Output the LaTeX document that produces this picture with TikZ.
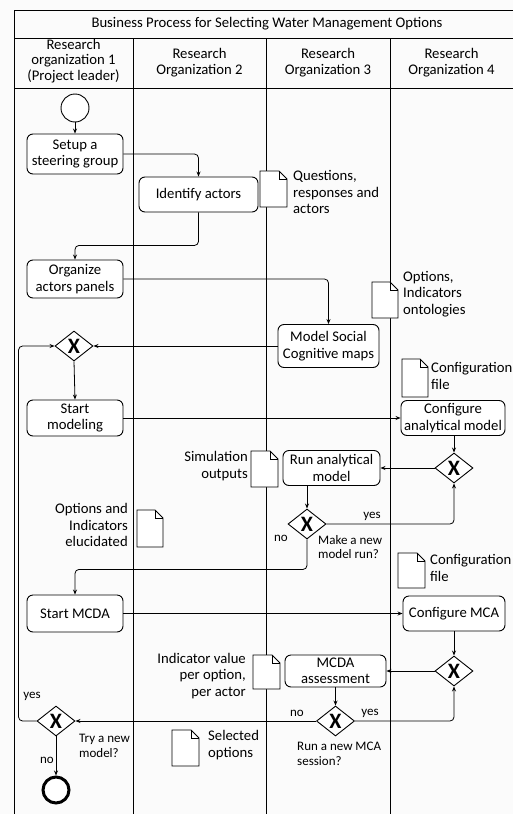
\documentclass[tikz,border=0pt]{standalone}
\usepackage{fontspec}
\setmainfont{Carlito}
\usetikzlibrary{arrows.meta,shapes.geometric,calc}
\definecolor{bgc}{RGB}{251,251,251}
\newcommand{\mydoc}[4]{%
  \draw[docline,fill=white] (#1,#2) -- (#1+#3-8,#2) -- (#1+#3,#2+8) -- (#1+#3,#2+#4) -- (#1,#2+#4) -- cycle;
  \draw[docline] (#1+#3-8,#2) -- (#1+#3-8,#2+8) -- (#1+#3,#2+8);}
\tikzset{
  task/.style={draw, fill=white, rounded corners=6pt, align=center, inner sep=0pt,
    font=\fontsize{14.7}{16.5}\selectfont, line width=0.9pt},
  gw/.style={draw, fill=white, diamond, aspect=1.27, inner sep=0pt, minimum width=38pt,
    minimum height=30pt, font=\fontsize{22}{22}\selectfont\bfseries, line width=0.9pt},
  arr/.style={-{Stealth[length=5pt,width=4pt]}, line width=0.8pt, rounded corners=4pt},
  docline/.style={line width=0.8pt},
  lane/.style={line width=1pt},
  hdr/.style={align=center, font=\fontsize{14.7}{15.8}\selectfont, inner sep=0pt},
  doctext/.style={inner sep=0pt, font=\fontsize{14.7}{16.8}\selectfont},
  small/.style={inner sep=0pt, font=\fontsize{13}{14.8}\selectfont},
}
\begin{document}
\begin{tikzpicture}[x=1pt,y=-1pt]
\useasboundingbox (0,0) rectangle (513,814);
\fill[bgc] (0,0) rectangle (513,814);
% frame and lanes
\draw[lane] (513,10) -- (14,10) -- (14,814);
\draw[lane] (14,38) -- (513,38);
\draw[lane] (14,88) -- (513,88);
\draw[lane] (133,38) -- (133,814);
\draw[lane] (266,38) -- (266,814);
\draw[lane] (390,38) -- (390,814);
\node[hdr] (title) at (267,24) {Business Process for Selecting Water Management Options};
\node[hdr] (h1) at (73.5,61) {Research\\organization 1\\(Project leader)};
\node[hdr] (h2) at (199.5,62.5) {Research\\Organization 2};
\node[hdr] (h3) at (328,62.5) {Research\\Organization 3};
\node[hdr] (h4) at (451.5,62.5) {Research\\Organization 4};
% documents
\mydoc{260}{171}{27}{36}
\mydoc{372}{282}{26}{36}
\mydoc{402}{359}{26}{38}
\mydoc{251}{451}{27}{36}
\mydoc{137}{510}{26}{37}
\mydoc{398}{553}{27}{35}
\mydoc{253}{655}{27}{34}
\mydoc{172}{730}{27}{36}
\node[doctext, anchor=west, align=left] (t1) at (293,192) {Questions,\\responses and\\actors};
\node[doctext, anchor=west, align=left] (t2) at (403,294) {Options,\\Indicators\\ontologies};
\node[doctext, anchor=west, align=left] (t3) at (431,376) {Configuration\\file};
\node[doctext, anchor=east, align=right] (t4) at (248,466) {Simulation\\outputs};
\node[doctext, anchor=east, align=right] (t5) at (128,525) {Options and\\Indicators\\elucidated};
\node[doctext, anchor=west, align=left] (t6) at (430,568) {Configuration\\file};
\node[doctext, anchor=east, align=right] (t7) at (246,676) {Indicator value\\per option,\\per actor};
\node[doctext, anchor=west, align=left] (t8) at (208,745) {Selected\\options};
% events
\node[draw, circle, fill=white, minimum size=28pt, inner sep=0pt, line width=0.9pt] (start) at (75,108) {};
\node[draw, circle, fill=white, minimum size=26pt, inner sep=0pt, line width=3pt] (end) at (56,790) {};
% tasks
\node[task, minimum width=96pt, minimum height=40pt] (setup) at (75,154) {Setup a\\steering group};
\node[task, minimum width=119pt, minimum height=35pt] (identify) at (198.5,194.5) {Identify actors};
\node[task, minimum width=96pt, minimum height=38pt] (organize) at (75,279) {Organize\\actors panels};
\node[task, minimum width=101pt, minimum height=43pt] (model) at (328.5,346) {Model Social\\Cognitive maps};
\node[task, minimum width=96pt, minimum height=36pt] (startmod) at (75,418) {Start\\modeling};
\node[task, minimum width=104pt, minimum height=35pt] (config1) at (453,418) {Configure\\analytical model};
\node[task, minimum width=97pt, minimum height=35pt] (run) at (331.5,468) {Run analytical\\model};
\node[task, minimum width=96pt, minimum height=37pt] (startmcda) at (75,613.5) {Start MCDA};
\node[task, minimum width=102pt, minimum height=35pt] (configmca) at (454,613.5) {Configure MCA};
\node[task, minimum width=101pt, minimum height=32pt] (mcda) at (335.5,671) {MCDA\\assessment};
% gateways
\node[gw] (g1) at (74,346) {X};
\node[gw] (g2) at (454,468) {X};
\node[gw] (g3) at (307,524) {X};
\node[gw] (g4) at (454,671) {X};
\node[gw] (g5) at (56,721) {X};
\node[gw] (g6) at (335.5,721) {X};
% connectors
\draw[arr] (start) -- (setup);
\draw[arr] (setup.east) -| (identify.north);
\draw[arr] (identify.south) -- ++(0,33) -| (organize.north);
\draw[arr] (organize.east) -| (model.north);
\draw[arr] (model.west) -- (g1.east);
\draw[arr] (g1.south) -- (startmod.north);
\draw[arr] (startmod.east) -- (config1.west);
\draw[arr] (config1.south -| g2.north) -- (g2.north);
\draw[arr] (g2.west) -- (run.east);
\draw[arr] (g3.north |- run.south) -- (g3.north);
\draw[arr] (g3.east) -| (g2.south);
\draw[arr] (g3.south) -- ++(0,30) -| (startmcda.north);
\draw[arr] (startmcda.east) -- (configmca.west);
\draw[arr] (configmca.south) -- (g4.north);
\draw[arr] (g4.west) -- (mcda.east);
\draw[arr] (mcda.south) -- (g6.north);
\draw[arr] (g6.east) -| (g4.south);
\draw[arr] (g6.west) -- (g5.east);
\draw[arr] (g5.west) -- ++(-18,0) |- (g1.west);
\draw[arr] (g5.south) -- (end.north);
% labels
\node[small] (lyes1) at (372,516) {yes};
\node[small] (lno1) at (281,538) {no};
\node[small, anchor=west, align=left] (q1) at (318,547) {Make a new\\model run?};
\node[small] (lyes2) at (32,696) {yes};
\node[small] (lno2) at (297,713) {no};
\node[small] (lyes3) at (370,713) {yes};
\node[small, anchor=west, align=left] (q2) at (297,754) {Run a new MCA\\session?};
\node[small, anchor=west, align=left] (q3) at (79,745.5) {Try a new\\model?};
\node[small] (lno3) at (47,760) {no};
\end{tikzpicture}
\end{document}
